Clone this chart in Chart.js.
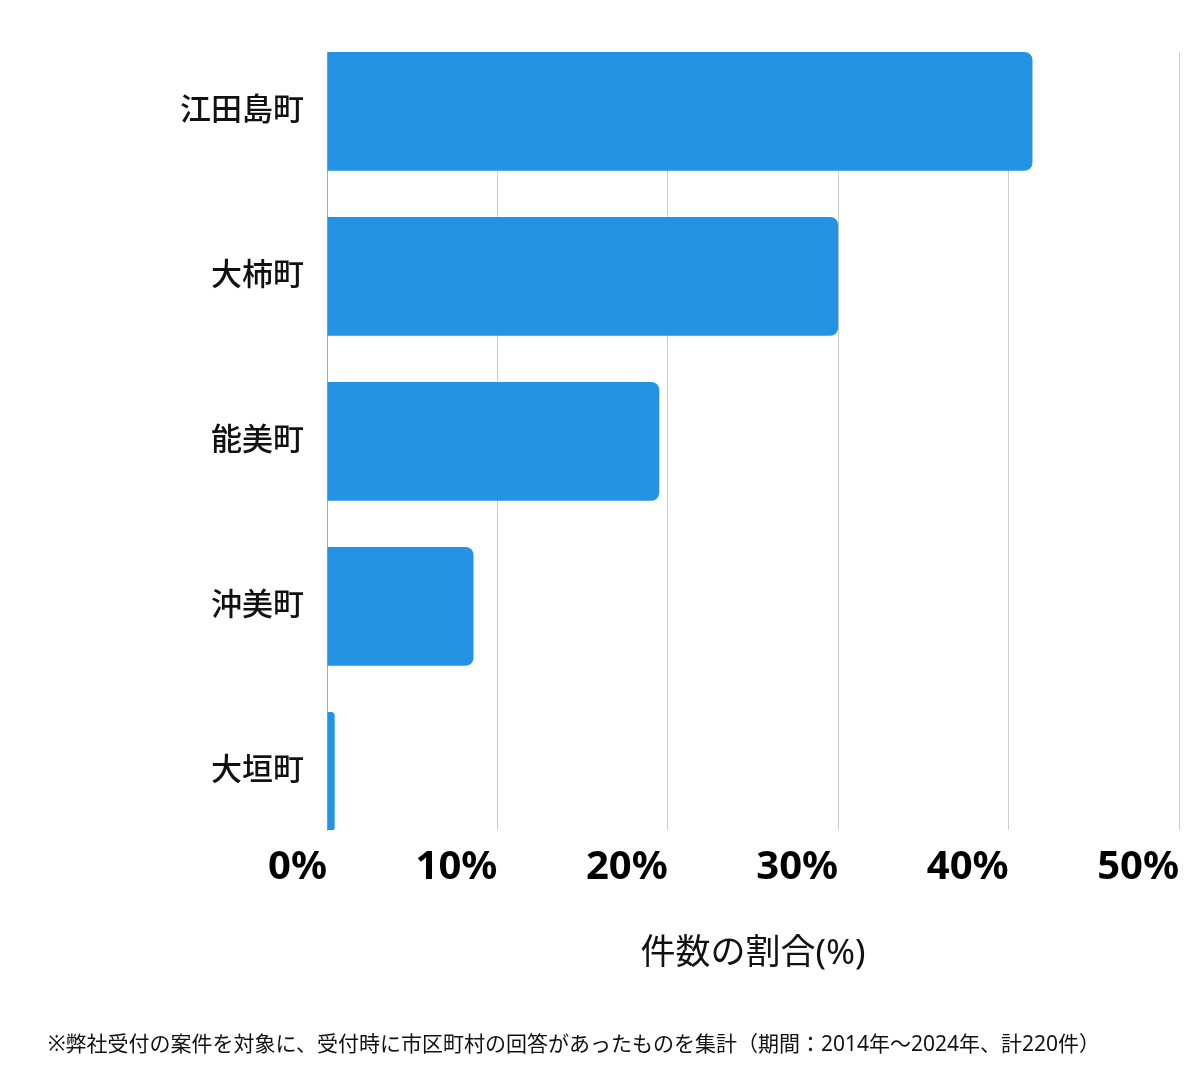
<!DOCTYPE html>
<html lang="ja">
<head>
<meta charset="utf-8">
<script src="https://cdn.jsdelivr.net/npm/chart.js@4/dist/chart.umd.min.js"></script>
<style>
  html, body { margin: 0; padding: 0; background: #fff; }
  #wrap { position: relative; width: 1200px; height: 1069px; }
  #note {
    position: absolute; left: 48px; top: 1028px;
    font-family: "Noto Sans", "Noto Sans CJK JP", sans-serif;
    font-size: 21px; line-height: 30px; color: #111; white-space: nowrap;
  }
</style>
</head>
<body>
<div id="wrap">
  <canvas id="chart" width="1200" height="1069"></canvas>
  <div id="note">※弊社受付の案件を対象に、受付時に市区町村の回答があったものを集計（期間：2014年～2024年、計220件）</div>
</div>
<script>
const categories = ['江田島町', '大柿町', '能美町', '沖美町', '大垣町'];
const shares = [41.4, 30.0, 19.5, 8.6, 0.45];
const xTicks = [0, 10, 20, 30, 40, 50];

const FONT = "'Noto Sans', 'Noto Sans CJK JP', sans-serif";

new Chart(document.getElementById('chart'), {
    type: 'bar',
    data: {
        datasets: [{
            data: categories.map((c, i) => ({ x: shares[i], y: i })),
            backgroundColor: '#2593e4',
            borderRadius: 8,
            borderSkipped: 'start'
        }]
    },
    options: {
        indexAxis: 'y',
        responsive: false,
        animation: false,
        layout: {
            padding: { top: 52, right: 21, bottom: 94, left: 0 }
        },
        plugins: {
            legend: { display: false },
            tooltip: { enabled: false }
        },
        scales: {
            x: {
                type: 'linear',
                min: 0,
                max: 50,
                afterBuildTicks: (scale) => {
                    scale.ticks = xTicks.map(v => ({ value: v }));
                },
                grid: {
                    color: '#cccccc',
                    drawTicks: false
                },
                border: { display: false },
                ticks: {
                    align: 'end',
                    padding: 14,
                    color: '#000',
                    font: { size: 40, weight: 'bold', family: FONT },
                    callback: (v) => v + '%'
                },
                title: {
                    display: true,
                    text: '件数の割合(%)',
                    color: '#111',
                    padding: { top: 27, bottom: 0 },
                    font: { size: 35, family: FONT }
                }
            },
            y: {
                type: 'linear',
                reverse: true,
                offset: false,
                min: -0.36,
                max: 4.355,
                afterBuildTicks: (scale) => {
                    scale.ticks = categories.map((c, i) => ({ value: i }));
                },
                afterFit: (scale) => { scale.width = 327; },
                grid: { display: false },
                border: { display: true, color: '#aaaaaa', width: 1 },
                ticks: {
                    autoSkip: false,
                    padding: 15,
                    color: '#111',
                    font: { size: 31, weight: '500', family: FONT },
                    callback: (v) => categories[v]
                }
            }
        }
    }
});
</script>
</body>
</html>
